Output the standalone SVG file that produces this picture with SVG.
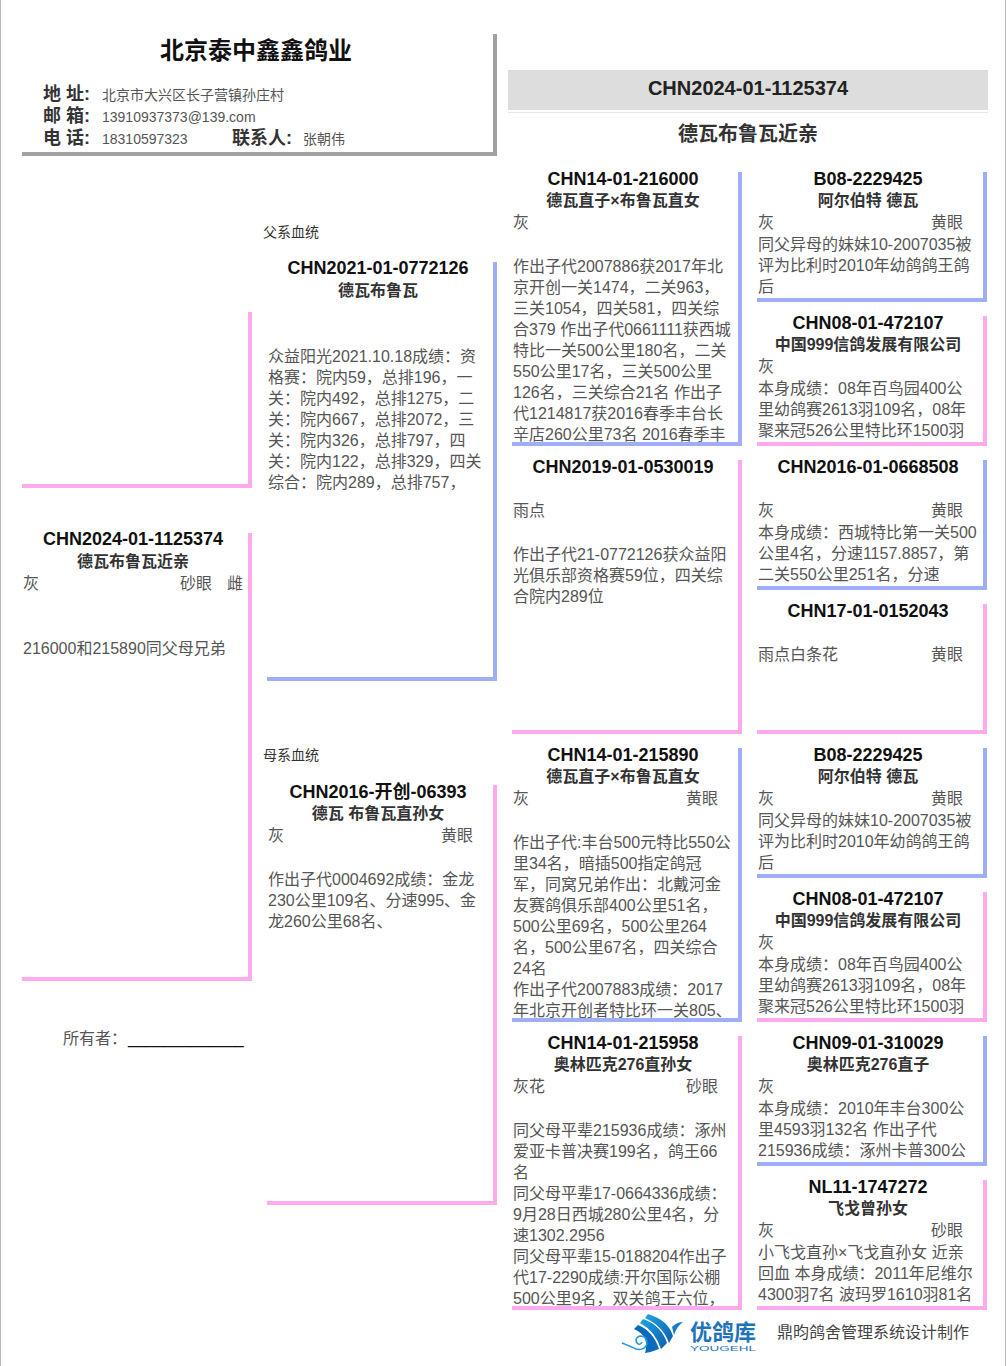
<svg xmlns="http://www.w3.org/2000/svg" width="1006" height="1366" viewBox="0 0 1006 1366">
<style>
text{font-family:"Liberation Sans","Noto Sans CJK SC",sans-serif;fill:#555;font-size:16px}
.id{font-size:18px;font-weight:700;fill:#111;text-anchor:middle}
.nm{font-weight:700;fill:#333;text-anchor:middle}
.lb{font-size:18px;font-weight:700;fill:#333}
.v{font-size:14px}
.sec{font-size:14px;fill:#333}
.link{fill:none;stroke-width:4;stroke-linejoin:miter}
.b{stroke:#a0aff5}.p{stroke:#ffaaee}.g{stroke:#a0a0a0}
</style>
<defs>
<linearGradient id="lg" x1="0" y1="0" x2="1" y2="1"><stop offset="0" stop-color="#1fa4e4"/><stop offset="1" stop-color="#0b5fae"/></linearGradient>
</defs>
<rect width="1006" height="1366" fill="#fff"/>
<rect x="0" y="0" width="1" height="1366" fill="#bbb"/>
<rect x="1005" y="0" width="1" height="1366" fill="#bbb"/>
<g id="farm">
<text x="256" y="59" style="font-size:24px;font-weight:700;fill:#111;text-anchor:middle">北京泰中鑫鑫鸽业</text>
<text class="lb" x="43" y="100">地 址:</text><text class="v" x="102" y="100">北京市大兴区长子营镇孙庄村</text>
<text class="lb" x="43" y="122">邮 箱:</text><text class="v" x="102" y="122">13910937373@139.com</text>
<text class="lb" x="43" y="144">电 话:</text><text class="v" x="102" y="144">18310597323</text>
<text class="lb" x="232" y="144">联系人:</text><text class="v" x="303" y="144">张朝伟</text>
</g>
<g id="title">
<rect x="508" y="70" width="480" height="40" fill="#ddd"/>
<rect x="508" y="112" width="480" height="1" fill="#e8e8e8"/>
<text x="748" y="95" style="font-size:20px;font-weight:700;fill:#222;text-anchor:middle">CHN2024-01-1125374</text>
<text x="748" y="141" style="font-size:20px;font-weight:700;fill:#333;text-anchor:middle">德瓦布鲁瓦近亲</text>
</g>
<g id="self">
<text class="id" x="133" y="545">CHN2024-01-1125374</text>
<text class="nm" x="133" y="567">德瓦布鲁瓦近亲</text>
<text x="23" y="589">灰</text><text x="180" y="589">砂眼</text><text x="227" y="589">雌</text>
<text x="23" y="654">216000和215890同父母兄弟</text>
<text x="63" y="1044">所有者&#65306;</text><text x="128" y="1044" style="fill:#111">_____________</text>
</g>
<g id="father">
<text class="sec" x="263" y="237">父系血统</text>
<text class="id" x="378" y="274">CHN2021-01-0772126</text>
<text class="nm" x="378" y="296">德瓦布鲁瓦</text>
<text x="268" y="362">众益阳光2021.10.18成绩&#65306;资</text>
<text x="268" y="383">格赛&#65306;院内59&#65292;总排196&#65292;一</text>
<text x="268" y="404">关&#65306;院内492&#65292;总排1275&#65292;二</text>
<text x="268" y="425">关&#65306;院内667&#65292;总排2072&#65292;三</text>
<text x="268" y="446">关&#65306;院内326&#65292;总排797&#65292;四</text>
<text x="268" y="467">关&#65306;院内122&#65292;总排329&#65292;四关</text>
<text x="268" y="488">综合&#65306;院内289&#65292;总排757&#65292;</text>
</g>
<g id="mother">
<text class="sec" x="263" y="760">母系血统</text>
<text class="id" x="378" y="798">CHN2016-开创-06393</text>
<text class="nm" x="378" y="819">德瓦 布鲁瓦直孙女</text>
<text x="268" y="841">灰</text><text x="441" y="841">黄眼</text>
<text x="268" y="885">作出子代0004692成绩&#65306;金龙</text>
<text x="268" y="906">230公里109名、分速995、金</text>
<text x="268" y="927">龙260公里68名、</text>
</g>
<g id="n216000">
<text class="id" x="623" y="185">CHN14-01-216000</text>
<text class="nm" x="623" y="206">德瓦直子×布鲁瓦直女</text>
<text x="513" y="228">灰</text>
<text x="513" y="272">作出子代2007886获2017年北</text>
<text x="513" y="293">京开创一关1474&#65292;二关963&#65292;</text>
<text x="513" y="314">三关1054&#65292;四关581&#65292;四关综</text>
<text x="513" y="335">合379 作出子代0661111获西城</text>
<text x="513" y="356">特比一关500公里180名&#65292;二关</text>
<text x="513" y="377">550公里17名&#65292;三关500公里</text>
<text x="513" y="398">126名&#65292;三关综合21名 作出子</text>
<text x="513" y="419">代1214817获2016春季丰台长</text>
<text x="513" y="440">辛店260公里73名 2016春季丰</text>
</g>
<g id="n530019">
<text class="id" x="623" y="473">CHN2019-01-0530019</text>
<text x="513" y="516">雨点</text>
<text x="513" y="560">作出子代21-0772126获众益阳</text>
<text x="513" y="581">光俱乐部资格赛59位&#65292;四关综</text>
<text x="513" y="602">合院内289位</text>
</g>
<g id="n215890">
<text class="id" x="623" y="761">CHN14-01-215890</text>
<text class="nm" x="623" y="782">德瓦直子×布鲁瓦直女</text>
<text x="513" y="804">灰</text><text x="686" y="804">黄眼</text>
<text x="513" y="848">作出子代:丰台500元特比550公</text>
<text x="513" y="869">里34名&#65292;暗插500指定鸽冠</text>
<text x="513" y="890">军&#65292;同窝兄弟作出&#65306;北戴河金</text>
<text x="513" y="911">友赛鸽俱乐部400公里51名&#65292;</text>
<text x="513" y="932">500公里69名&#65292;500公里264</text>
<text x="513" y="953">名&#65292;500公里67名&#65292;四关综合</text>
<text x="513" y="974">24名</text>
<text x="513" y="995">作出子代2007883成绩&#65306;2017</text>
<text x="513" y="1016">年北京开创者特比环一关805、</text>
</g>
<g id="n215958">
<text class="id" x="623" y="1049">CHN14-01-215958</text>
<text class="nm" x="623" y="1070">奥林匹克276直孙女</text>
<text x="513" y="1092">灰花</text><text x="686" y="1092">砂眼</text>
<text x="513" y="1136">同父母平辈215936成绩&#65306;涿州</text>
<text x="513" y="1157">爱亚卡普决赛199名&#65292;鸽王66</text>
<text x="513" y="1178">名</text>
<text x="513" y="1199">同父母平辈17-0664336成绩&#65306;</text>
<text x="513" y="1220">9月28日西城280公里4名&#65292;分</text>
<text x="513" y="1241">速1302.2956</text>
<text x="513" y="1262">同父母平辈15-0188204作出子</text>
<text x="513" y="1283">代17-2290成绩:开尔国际公棚</text>
<text x="513" y="1304">500公里9名&#65292;双关鸽王六位&#65292;</text>
</g>
<g id="n2229425a">
<text class="id" x="868" y="185">B08-2229425</text>
<text class="nm" x="868" y="206">阿尔伯特 德瓦</text>
<text x="758" y="228">灰</text><text x="931" y="228">黄眼</text>
<text x="758" y="250">同父异母的妹妹10-2007035被</text>
<text x="758" y="271">评为比利时2010年幼鸽鸽王鸽</text>
<text x="758" y="292">后</text>
</g>
<g id="n472107a">
<text class="id" x="868" y="329">CHN08-01-472107</text>
<text class="nm" x="868" y="350">中国999信鸽发展有限公司</text>
<text x="758" y="372">灰</text>
<text x="758" y="394">本身成绩&#65306;08年百鸟园400公</text>
<text x="758" y="415">里幼鸽赛2613羽109名&#65292;08年</text>
<text x="758" y="436">聚来冠526公里特比环1500羽</text>
</g>
<g id="n668508">
<text class="id" x="868" y="473">CHN2016-01-0668508</text>
<text x="758" y="516">灰</text><text x="931" y="516">黄眼</text>
<text x="758" y="538">本身成绩&#65306;西城特比第一关500</text>
<text x="758" y="559">公里4名&#65292;分速1157.8857&#65292;第</text>
<text x="758" y="580">二关550公里251名&#65292;分速</text>
</g>
<g id="n152043">
<text class="id" x="868" y="617">CHN17-01-0152043</text>
<text x="758" y="660">雨点白条花</text><text x="931" y="660">黄眼</text>
</g>
<g id="n2229425b">
<text class="id" x="868" y="761">B08-2229425</text>
<text class="nm" x="868" y="782">阿尔伯特 德瓦</text>
<text x="758" y="804">灰</text><text x="931" y="804">黄眼</text>
<text x="758" y="826">同父异母的妹妹10-2007035被</text>
<text x="758" y="847">评为比利时2010年幼鸽鸽王鸽</text>
<text x="758" y="868">后</text>
</g>
<g id="n472107b">
<text class="id" x="868" y="905">CHN08-01-472107</text>
<text class="nm" x="868" y="926">中国999信鸽发展有限公司</text>
<text x="758" y="948">灰</text>
<text x="758" y="970">本身成绩&#65306;08年百鸟园400公</text>
<text x="758" y="991">里幼鸽赛2613羽109名&#65292;08年</text>
<text x="758" y="1012">聚来冠526公里特比环1500羽</text>
</g>
<g id="n310029">
<text class="id" x="868" y="1049">CHN09-01-310029</text>
<text class="nm" x="868" y="1070">奥林匹克276直子</text>
<text x="758" y="1092">灰</text>
<text x="758" y="1114">本身成绩&#65306;2010年丰台300公</text>
<text x="758" y="1135">里4593羽132名 作出子代</text>
<text x="758" y="1156">215936成绩&#65306;涿州卡普300公</text>
</g>
<g id="n1747272">
<text class="id" x="868" y="1193">NL11-1747272</text>
<text class="nm" x="868" y="1214">飞戈曾孙女</text>
<text x="758" y="1236">灰</text><text x="931" y="1236">砂眼</text>
<text x="758" y="1258">小飞戈直孙×飞戈直孙女 近亲</text>
<text x="758" y="1279">回血 本身成绩&#65306;2011年尼维尔</text>
<text x="758" y="1300">4300羽7名 波玛罗1610羽81名</text>
</g>
<g id="connectors">
<path class="link g" d="M22 154H495V34"/>
<path class="link p" d="M22 486H250V312"/>
<path class="link p" d="M22 979H250V533"/>
<path class="link b" d="M267 679H495V262"/>
<path class="link p" d="M267 1203H495V785"/>
<path class="link b" d="M512 444H740V172"/>
<path class="link p" d="M512 732H740V460"/>
<path class="link b" d="M512 1020H740V748"/>
<path class="link p" d="M512 1308H740V1036"/>
<path class="link b" d="M757 300H985V172"/>
<path class="link p" d="M757 444H985V316"/>
<path class="link b" d="M757 588H985V460"/>
<path class="link p" d="M757 732H985V604"/>
<path class="link b" d="M757 876H985V748"/>
<path class="link p" d="M757 1020H985V892"/>
<path class="link b" d="M757 1164H985V1036"/>
<path class="link p" d="M757 1308H985V1180"/>
</g>
<g id="footer">
<path d="M648 1314Q668 1320 673 1336L669 1343Q663 1326 645 1318Z" fill="url(#lg)"/>
<path d="M643 1319Q661 1325 667 1343L661 1349Q655 1331 640 1323Z" fill="url(#lg)"/>
<path d="M638 1325Q653 1331 659 1349Q652 1352 645 1353Q650 1336 634 1329Z" fill="#0d6ab8"/>
<path d="M672 1327Q677 1322 683 1322Q677 1326 674 1335Z" fill="#1a7cc4"/>
<path d="M622 1343Q632 1347 636 1349Q644 1351 647 1344Q648 1336 640 1336Q634 1338 637 1343Q640 1346 642 1342" fill="none" stroke="#1f9ae0" stroke-width="1.6"/>
<text x="690" y="1340" style="font-size:22px;font-weight:700;fill:#1f74b8">优鸽库</text>
<text x="690" y="1351" textLength="66" lengthAdjust="spacingAndGlyphs" style="font-size:7px;fill:#1f74b8">YOUGEHL</text>
<text x="777" y="1338" style="fill:#444">鼎昀鸽舍管理系统设计制作</text>
</g>
</svg>
